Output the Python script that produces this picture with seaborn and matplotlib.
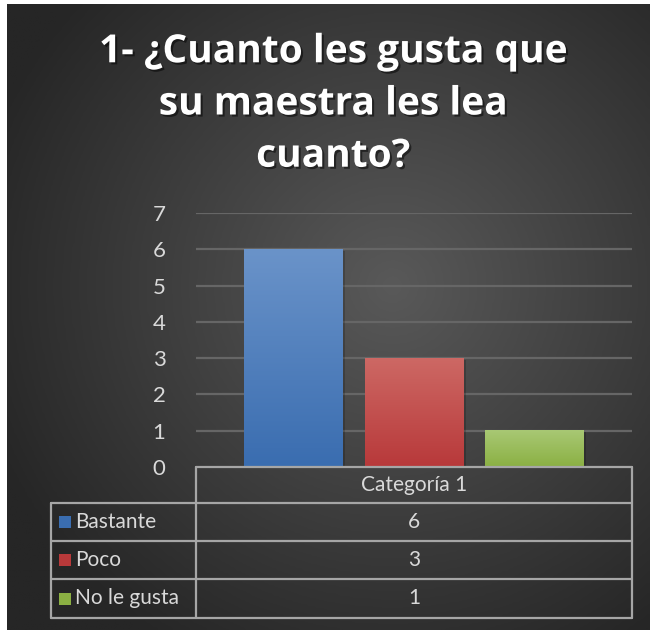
"""Recreation of an Excel-style column chart with data table."""

import matplotlib

matplotlib.use("Agg")
import matplotlib.pyplot as plt
import matplotlib.patheffects as pe
import numpy as np
import pandas as pd
import seaborn as sns
from matplotlib.colors import LinearSegmentedColormap

# data
categories = ["Categoría 1"]
series = ["Bastante", "Poco", "No le gusta"]
values = [6, 3, 1]
title = "1- ¿Cuanto les gusta que\nsu maestra les lea\ncuanto?"
y_ticks = [0, 1, 2, 3, 4, 5, 6, 7]

# colours (top / bottom of bar gradient)
top_colors = ["#6a93c9", "#cd6864", "#a8c874"]
bottom_colors = ["#3a6db0", "#b8393a", "#8bb043"]
text_color = "#d9d9d9"
line_color = "#a6a6a6"
grid_color = "#666666"

sns.set_theme(style="dark")
plt.rcParams["font.family"] = ["Lato", "DejaVu Sans"]

W, H = 654, 630
fig = plt.figure(figsize=(W / 100, H / 100), dpi=100)
fig.patch.set_facecolor("white")


def px(x, y):
    return x / W, 1 - y / H


# radial gradient background
bg = fig.add_axes([7 / W, 0, (650 - 7) / W, 1 - 4 / H], zorder=-10)
gx, gy = np.meshgrid(np.linspace(0, 1, 300), np.linspace(0, 1, 300))
r = np.sqrt(((gx - 0.6) / 0.9) ** 2 + ((gy - 0.55) / 0.9) ** 2)
bg_cmap = LinearSegmentedColormap.from_list("bg", ["#595959", "#262626"])
bg.imshow(np.clip(r / 0.75, 0, 1), cmap=bg_cmap, vmin=0, vmax=1, aspect="auto",
          extent=[0, 1, 0, 1], origin="lower")
bg.set_axis_off()

# main chart
x0, y0 = px(196, 467)
x1, y1 = px(632, 213)
ax = fig.add_axes([x0, y0, x1 - x0, y1 - y0])
ax.set_facecolor("none")

df = pd.DataFrame({
    "categoria": categories * len(series),
    "serie": series,
    "valor": values,
})
sns.barplot(data=df, x="categoria", y="valor", hue="serie", hue_order=series,
            palette=bottom_colors, width=0.83, gap=0.18, legend=False,
            edgecolor="none", ax=ax, zorder=3)

# gradient fill on top of each bar
for patch, c_top, c_bot in zip(ax.patches, top_colors, bottom_colors):
    bx0, by0 = patch.get_x(), patch.get_y()
    bw, bh = patch.get_width(), patch.get_height()
    cmap = LinearSegmentedColormap.from_list("g", [c_bot, c_top])
    grad = np.linspace(0, 1, 100).reshape(-1, 1)
    ax.imshow(grad, cmap=cmap, extent=[bx0, bx0 + bw, by0, by0 + bh],
              origin="lower", aspect="auto", zorder=4)
    patch.set_path_effects([pe.SimplePatchShadow(offset=(1.5, -1), alpha=0.18,
                                                 shadow_rgbFace="black"),
                            pe.Normal()])

ax.set_xlim(-0.5, 0.5)
ax.set_ylim(0, 7)
ax.set_yticks(y_ticks)
ax.set_yticklabels([str(t) for t in y_ticks], color=text_color, fontsize=16)
ax.tick_params(axis="y", length=0, pad=22)
ax.set_xticks([])
ax.set_xlabel("")
ax.set_ylabel("")
for spine in ax.spines.values():
    spine.set_visible(False)
for t in y_ticks[1:]:
    ax.axhline(t, color=grid_color, lw=1.6, zorder=1)

# title
fig.text(*px(333, 104), title, ha="center", va="center", color="white",
         fontsize=28, fontweight="bold", linespacing=1.44,
         family=["Open Sans", "DejaVu Sans"],
         path_effects=[pe.withSimplePatchShadow(offset=(1.5, -1.5), alpha=0.5,
                                                shadow_rgbFace="black")])

# data table
lw = 1.6


def hline(y, xa, xb):
    fig.add_artist(plt.Line2D([px(xa, 0)[0], px(xb, 0)[0]], [px(0, y)[1]] * 2,
                              color=line_color, lw=lw))


def vline(x, ya, yb):
    fig.add_artist(plt.Line2D([px(x, 0)[0]] * 2, [px(0, ya)[1], px(0, yb)[1]],
                              color=line_color, lw=lw))


row_y = [467, 503, 541, 579, 618]
hline(row_y[0], 196, 632)
for y in row_y[1:]:
    hline(y, 51, 632)
vline(196, 467, 618)
vline(632, 467, 618)
vline(51, 503, 618)

fig.text(*px(414, (row_y[0] + row_y[1]) / 2), categories[0], ha="center",
         va="center", color=text_color, fontsize=15)
for i, (name, val, col) in enumerate(zip(series, values, bottom_colors)):
    yc = (row_y[i + 1] + row_y[i + 2]) / 2
    fig.add_artist(plt.Rectangle(px(59, yc + 6), 12 / W, 12 / H,
                                 facecolor=col, edgecolor="none"))
    fig.text(*px(75, yc), name, ha="left", va="center", color=text_color,
             fontsize=15)
    fig.text(*px(414, yc), str(val), ha="center", va="center",
             color=text_color, fontsize=15)

fig.savefig("out.png", dpi=100)
